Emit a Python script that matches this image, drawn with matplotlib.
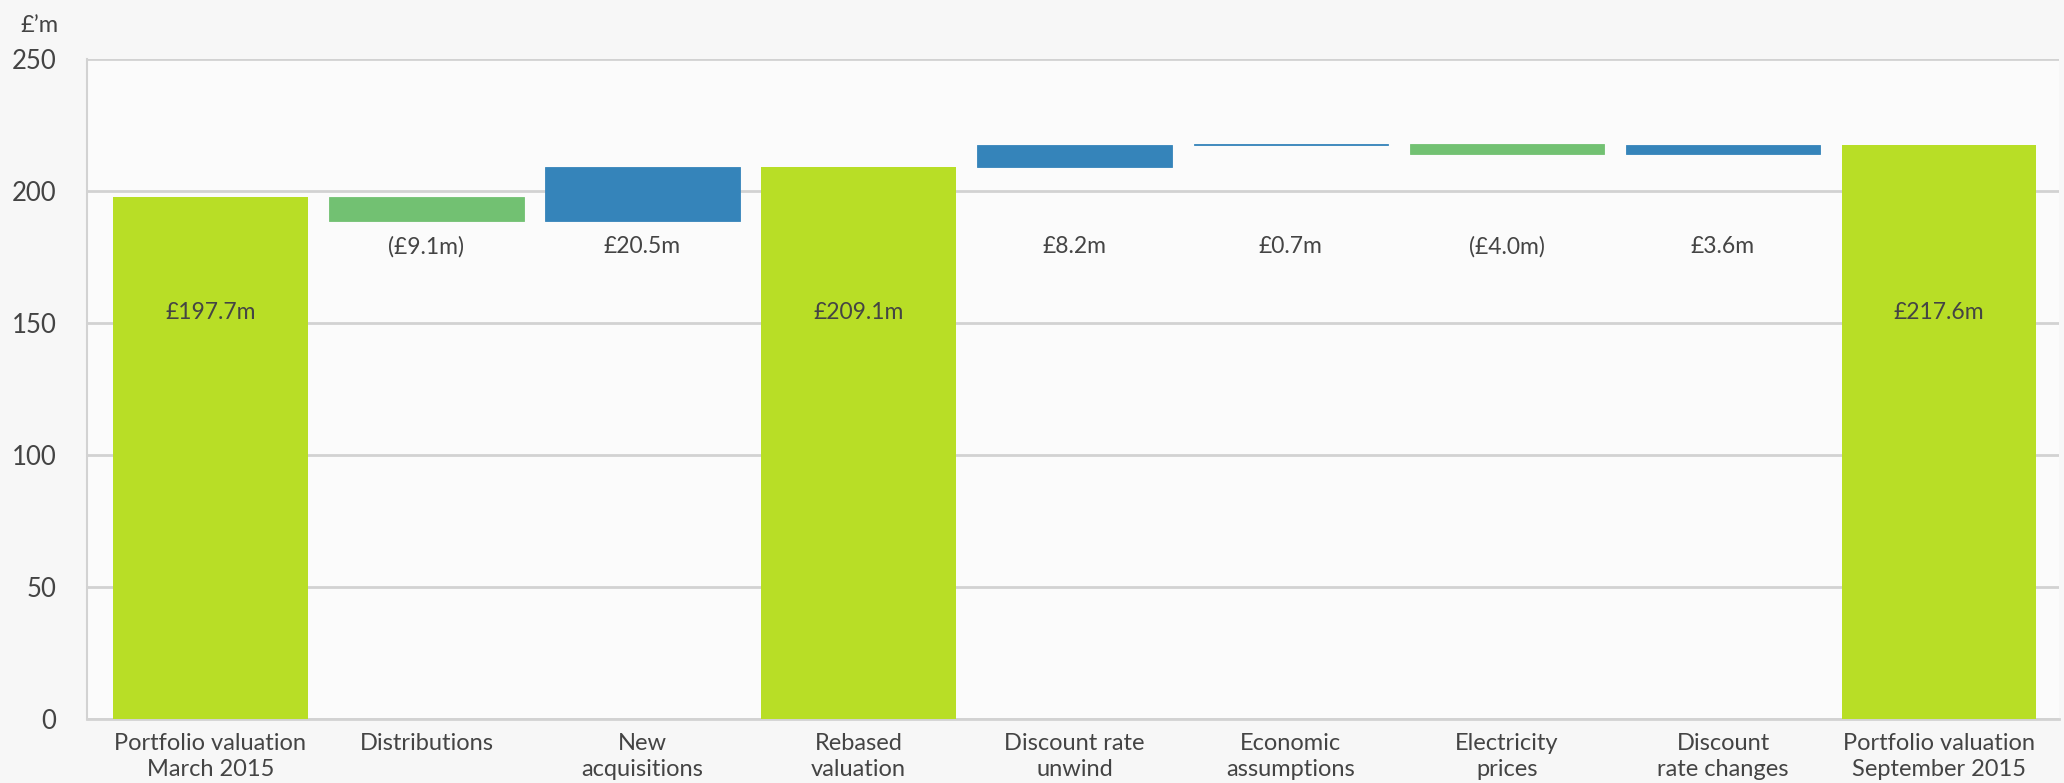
"""Portfolio valuation bridge, March 2015 to September 2015."""
import matplotlib

matplotlib.use("Agg")
import matplotlib.pyplot as plt

plt.rcParams["font.family"] = ["Lato", "DejaVu Sans"]

CATEGORIES = [
    "Portfolio valuation\nMarch 2015",
    "Distributions",
    "New\nacquisitions",
    "Rebased\nvaluation",
    "Discount rate\nunwind",
    "Economic\nassumptions",
    "Electricity\nprices",
    "Discount\nrate changes",
    "Portfolio valuation\nSeptember 2015",
]
VALUES = [197.7, -9.1, 20.5, 209.1, 8.2, 0.7, -4.0, 3.6, 217.6]
IS_TOTAL = [True, False, False, True, False, False, False, False, True]
LABELS = ["£197.7m", "(£9.1m)", "£20.5m", "£209.1m", "£8.2m",
          "£0.7m", "(£4.0m)", "£3.6m", "£217.6m"]

LIME = "#b8de26"
GREEN = "#72c172"
BLUE = "#3584ba"
TEXT = "#444444"
GRID = "#d2d2d2"

fig = plt.figure(figsize=(20.64, 7.83), dpi=100, facecolor="#f7f7f7")
ax = fig.add_axes([0.0422, 0.0817, 0.9554, 0.8429], facecolor="#fbfbfb")

running = 0.0
for i, (v, total) in enumerate(zip(VALUES, IS_TOTAL)):
    if total:
        ax.bar(i, v, width=0.9, color=LIME, linewidth=0, zorder=3)
        running = v
        ax.text(i, 154, LABELS[i], ha="center", va="center",
                fontsize=16.5, color=TEXT, zorder=4)
    else:
        color = GREEN if v < 0 else BLUE
        ax.bar(i, v, bottom=running, width=0.9, color=color,
               edgecolor=color, linewidth=0.6, zorder=3)
        running += v
        ax.text(i, 179, LABELS[i], ha="center", va="center",
                fontsize=16.5, color=TEXT, zorder=4)

ax.set_xlim(-0.57, 8.555)
ax.set_ylim(0, 250)
ax.set_yticks([0, 50, 100, 150, 200, 250])
ax.set_xticks(range(len(CATEGORIES)))
ax.set_xticklabels(CATEGORIES, fontsize=17, color=TEXT, linespacing=1.3)
ax.tick_params(axis="y", labelsize=18.5, labelcolor=TEXT, length=0, pad=22)
ax.tick_params(axis="x", length=0, pad=10)
ax.grid(axis="y", color=GRID, linewidth=2, zorder=1)
for side in ("top", "right"):
    ax.spines[side].set_visible(False)
ax.spines["bottom"].set_color(GRID)
ax.spines["bottom"].set_linewidth(2)
ax.spines["left"].set_color(GRID)
ax.spines["left"].set_linewidth(1.5)

fig.text(0.0097, 0.968, "£’m", fontsize=17, color=TEXT, ha="left", va="center")

fig.savefig("out.png", dpi=100, facecolor=fig.get_facecolor())
